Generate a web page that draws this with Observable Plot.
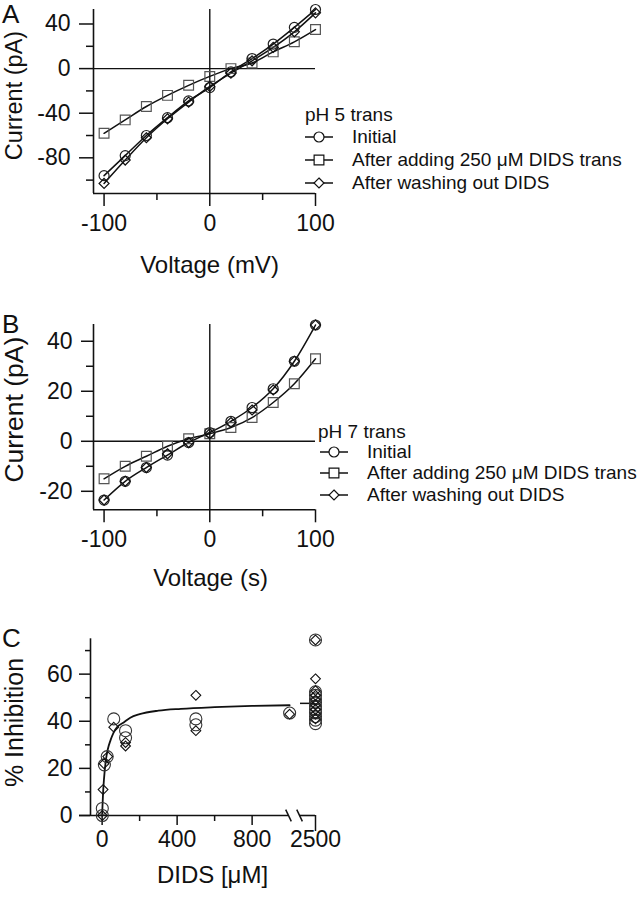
<!DOCTYPE html>
<html><head><meta charset="utf-8">
<script src="https://cdn.jsdelivr.net/npm/d3@7"></script>
<script src="https://cdn.jsdelivr.net/npm/@observablehq/plot@0.6"></script>
<style>
body{margin:0;background:#fff;}
#root{position:relative;width:639px;height:899px;font-family:"Liberation Sans",Arial,Helvetica,sans-serif;color:#111;overflow:hidden;}
.panel{position:absolute;left:0;}
.letter{position:absolute;left:2px;font-size:26px;line-height:1;z-index:5;}
.lg{position:absolute;font-size:19px;line-height:22px;height:22px;white-space:nowrap;}
.lgsym{position:absolute;}
</style></head><body><div id="root"></div>
<script>
// ---------- data ----------
const voltage = [-100, -80, -60, -40, -20, 0, 20, 40, 60, 80, 100];
const seriesNames = ["Initial", "After adding 250 \u03bcM DIDS trans", "After washing out DIDS"];
// Panel A (pH 5 trans)
const aInitial = [-96, -78, -60, -44, -29, -17, -3, 9, 22, 37, 53];
const aDids    = [-58, -46, -34, -24, -15, -7, 0, 5, 15, 24, 35];
const aWash    = [-103, -82, -62, -45, -30, -16, -4, 7, 19, 33, 50];
// Panel B (pH 7 trans)
const bInitial = [-23.5, -16, -10.5, -5.5, -0.5, 3.5, 8, 13.5, 21, 32, 46.5];
const bDids    = [-15, -10, -6, -2, 1, 3, 5.5, 9.5, 15.5, 23, 33];
const bWash    = [-23.5, -16, -10.5, -5, -0.5, 3, 7.5, 12.5, 20.5, 32, 46.5];
// tick values
const voltageMajorTicks = [-100, 0, 100];
const voltageMinorTicks = [-50, 50];
const aYMajor = [-80, -40, 0, 40];
const aYMinor = [-100, -60, -20, 20];
const bYMajor = [-20, 0, 20, 40];
const bYMinor = [-10, 10, 30];
// Panel C (% inhibition vs DIDS)
const circleConc = [1, 1, 12, 27, 62, 125, 125, 500, 500, 1000,
  2500, 2500, 2500, 2500, 2500, 2500, 2500, 2500, 2500, 2500, 2500];
const circleInhib = [0, 3, 21.5, 25, 41, 36, 33, 41, 38.5, 43.5,
  74.5, 52.5, 51, 49.5, 48, 46.5, 45, 43.5, 42, 40.5, 39];
const diamondConc = [1, 5, 10, 30, 62, 125, 125, 500, 500, 1000,
  2500, 2500, 2500, 2500, 2500, 2500, 2500, 2500, 2500];
const diamondInhib = [0, 11, 22, 25, 37.5, 31, 29.5, 51, 36, 43,
  74.5, 58, 53, 51, 49, 47, 45, 43, 41];
const fitConc  = [0, 2, 5, 10, 20, 30, 45, 60, 80, 115, 150, 200, 300, 420, 600, 800, 1000];
const fitInhib = [0, 4, 9.5, 15.5, 23.5, 28, 32, 35, 37.5, 39.5, 41.5, 43, 44.5, 45.3, 46, 46.5, 46.8];
const meanAt2500 = 47.6;
const cXMajor = [0, 400, 800];
const cXMinor = [200, 600];
const cXFar = [2500];
const cYMajor = [0, 20, 40, 60];
const cYMinor = [10, 30, 50, 70];
// broken x axis: values above 1000 are drawn at the far position after the break
const brokenLimit = 1000;
const farPosition = 1138;
const axisBreaks = [994, 1053];

// ---------- styles ----------
const FONT = '"Liberation Sans", Arial, Helvetica, sans-serif';
const markerStyle = [
  {symbol: "circle", r: 5, stroke: "#222"},
  {symbol: "square", r: 5.5, stroke: "#555"},
  {symbol: "diamond2", r: 4.5, stroke: "#111"}
];
const fmt = d => String(d);
const root = document.getElementById("root");

function place(el, top) {
  el.classList.add("panel");
  el.style.top = top + "px";
  root.appendChild(el);
}

function ivPanel(cfg) {
  const rows = [];
  cfg.series.forEach((vals, s) => vals.forEach((v, j) => rows.push({s, v: voltage[j], i: v})));
  const marks = [
    Plot.ruleY([0], {stroke: "#111", strokeWidth: 1.4}),
    Plot.ruleX([0], {stroke: "#111", strokeWidth: 1.4}),
    Plot.ruleX([cfg.xDomain[0]], {stroke: "#111", strokeWidth: 1.6}),
    Plot.ruleY([cfg.yDomain[0]], {stroke: "#111", strokeWidth: 1.6}),
    Plot.axisY(cfg.yMajor, {tickSize: cfg.yTick, tickPadding: 9, tickFormat: fmt, label: null, strokeWidth: 1.5}),
    Plot.axisY(cfg.yMinor, {tickSize: 7, tickFormat: () => "", label: null, strokeWidth: 1.5}),
    Plot.axisX(voltageMajorTicks, {tickSize: 13, tickPadding: 8, tickFormat: fmt, label: null, strokeWidth: 1.5}),
    Plot.axisX(voltageMinorTicks, {tickSize: 7, tickFormat: () => "", label: null, strokeWidth: 1.5})
  ];
  cfg.lines.forEach(s => marks.push(Plot.line(rows.filter(d => d.s === s),
    {x: "v", y: "i", curve: "monotone-x", stroke: "#111", strokeWidth: 1.5})));
  [1, 0, 2].forEach(s => {
    const m = markerStyle[s];
    marks.push(Plot.dot(rows.filter(d => d.s === s),
      {x: "v", y: "i", symbol: m.symbol, r: m.r, stroke: m.stroke, strokeWidth: 1.2, fill: "none"}));
  });
  marks.push(Plot.text([cfg.yTitle], {text: d => d, frameAnchor: "left", textAnchor: "middle", dx: -79, dy: cfg.yTitleDy, rotate: -90, fontSize: cfg.yTitleSize, lineAnchor: "middle"}));
  marks.push(Plot.text([cfg.xTitle], {text: d => d, frameAnchor: "bottom", textAnchor: "middle", dx: cfg.xTitleDx, dy: cfg.xTitleDy, fontSize: 24, lineAnchor: "middle"}));
  return Plot.plot({
    width: 639, height: cfg.height,
    marginLeft: 93, marginRight: 324, marginTop: cfg.marginTop, marginBottom: cfg.marginBottom,
    x: {domain: cfg.xDomain},
    y: {domain: cfg.yDomain},
    style: {fontFamily: FONT, fontSize: "23px", color: "#111", background: "transparent", overflow: "visible"},
    marks
  });
}

function legend(cfg) {
  const t = document.createElement("div");
  t.className = "lg";
  t.textContent = cfg.title;
  t.style.left = cfg.titleLeft + "px";
  t.style.top = (cfg.titleY - 11) + "px";
  root.appendChild(t);
  seriesNames.forEach((name, i) => {
    const y = cfg.rowsY[i];
    const m = markerStyle[i];
    const svg = d3.create("svg").attr("class", "lgsym").attr("width", 30).attr("height", 22)
      .style("left", cfg.symLeft + "px").style("top", (y - 11) + "px");
    svg.append("line").attr("x1", 0).attr("x2", 28).attr("y1", 11).attr("y2", 11)
      .attr("stroke", "#111").attr("stroke-width", 1.5);
    const type = {circle: d3.symbolCircle, square: d3.symbolSquare, diamond2: d3.symbolDiamond2}[m.symbol];
    svg.append("path").attr("transform", "translate(14,11)")
      .attr("d", d3.symbol(type, Math.PI * m.r * m.r)())
      .attr("fill", "white").attr("stroke", "#111").attr("stroke-width", 1.2);
    root.appendChild(svg.node());
    const tx = document.createElement("div");
    tx.className = "lg";
    tx.textContent = name;
    tx.style.left = cfg.textLeft + "px";
    tx.style.top = (y - 11) + "px";
    root.appendChild(tx);
  });
}

function letter(ch, top) {
  const d = document.createElement("div");
  d.className = "letter";
  d.textContent = ch;
  d.style.top = top + "px";
  root.appendChild(d);
}

// Panel A
place(ivPanel({
  height: 290, marginTop: 9, marginBottom: 97,
  xDomain: [-110, 100], yDomain: [-112, 53],
  yMajor: aYMajor, yMinor: aYMinor, yTick: 14,
  series: [aInitial, aDids, aWash], lines: [0, 1, 2],
  yTitle: "Current (pA)", yTitleDy: -6, yTitleSize: 23.5,
  xTitle: "Voltage (mV)", xTitleDx: 5, xTitleDy: 72
}), 0);
legend({title: "pH 5 trans", titleLeft: 305, titleY: 115, rowsY: [137, 160, 183], symLeft: 305, textLeft: 352});
letter("A", 1);

// Panel B
place(ivPanel({
  height: 290, marginTop: 24, marginBottom: 80.7,
  xDomain: [-110, 100], yDomain: [-27.4, 46.7],
  yMajor: bYMajor, yMinor: bYMinor, yTick: 12,
  series: [bInitial, bDids, bWash], lines: [0, 1],
  yTitle: "Current (pA)", yTitleDy: -7.5, yTitleSize: 26.5,
  xTitle: "Voltage (s)", xTitleDx: 6, xTitleDy: 69
}), 300);
legend({title: "pH 7 trans", titleLeft: 318, titleY: 431.7, rowsY: [451.7, 473.3, 495], symLeft: 320, textLeft: 367});
letter("B", 311);

// Panel C
const xPos = c => (c > brokenLimit ? farPosition : c);
const circles = circleConc.map((c, i) => ({c, p: circleInhib[i]}));
const diamonds = diamondConc.map((c, i) => ({c, p: diamondInhib[i]}));
const fit = fitConc.map((c, i) => ({c, p: fitInhib[i]}));
const slash = {draw(ctx) { ctx.moveTo(-2.8, -5.8); ctx.lineTo(2.8, 5.8); }};
const cXDomain = [-62, farPosition];
const farTickFormat = v => (v === farPosition ? String(cXFar[0]) : String(v));
const plotC = Plot.plot({
  width: 639, height: 279,
  marginLeft: 90, marginRight: 324, marginTop: 18.3, marginBottom: 84,
  x: {domain: cXDomain},
  y: {domain: [0, 75]},
  style: {fontFamily: FONT, fontSize: "23px", color: "#111", background: "transparent", overflow: "visible"},
  marks: [
    Plot.ruleX([cXDomain[0]], {stroke: "#111", strokeWidth: 1.6}),
    Plot.ruleY([0], {x1: cXDomain[0], x2: axisBreaks[0], insetLeft: -11, stroke: "#111", strokeWidth: 1.6}),
    Plot.ruleY([0], {x1: axisBreaks[1], x2: xPos(cXFar[0]), stroke: "#111", strokeWidth: 1.6}),
    Plot.dot(axisBreaks, {x: d => d, y: 0, symbol: slash, r: 4, stroke: "#111", strokeWidth: 1.5}),
    Plot.axisY(cYMajor, {tickSize: 11, tickPadding: 7, tickFormat: fmt, label: null, strokeWidth: 1.5}),
    Plot.axisY(cYMinor, {tickSize: 5, tickFormat: () => "", label: null, strokeWidth: 1.5}),
    Plot.axisX(cXMajor, {tickSize: 10, tickPadding: 5, tickFormat: fmt, label: null, strokeWidth: 1.5}),
    Plot.axisX(cXMinor, {tickSize: 6, tickFormat: () => "", label: null, strokeWidth: 1.5}),
    Plot.axisX(cXFar.map(xPos), {tickSize: 16, tickPadding: -1, tickFormat: farTickFormat, label: null, strokeWidth: 1.5}),
    Plot.line(fit, {x: d => xPos(d.c), y: "p", curve: "monotone-x", stroke: "#111", strokeWidth: 1.8}),
    Plot.ruleY([meanAt2500], {x1: xPos(cXFar[0]), x2: xPos(cXFar[0]), insetLeft: -15, stroke: "#111", strokeWidth: 1.5}),
    Plot.dot(circles, {x: d => xPos(d.c), y: "p", symbol: "circle", r: 6, stroke: "#333", strokeWidth: 1.1, fill: "none"}),
    Plot.dot(diamonds, {x: d => xPos(d.c), y: "p", symbol: "diamond2", r: 4.4, stroke: "#111", strokeWidth: 1.1, fill: "none"}),
    Plot.text(["% Inhibition"], {text: d => d, frameAnchor: "left", textAnchor: "middle", dx: -76, dy: -4.7, rotate: -90, fontSize: 25, lineAnchor: "middle"}),
    Plot.text(["DIDS [\u03bcM]"], {text: d => d, frameAnchor: "bottom", textAnchor: "middle", dx: 9.5, dy: 60, fontSize: 24, lineAnchor: "middle"})
  ]
});
place(plotC, 620);
letter("C", 625);
</script></body></html>
